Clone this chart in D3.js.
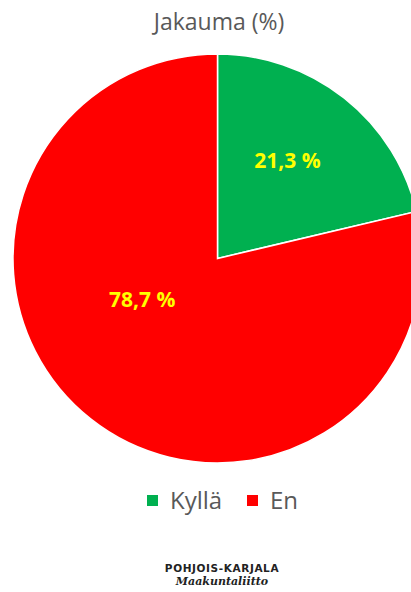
<!DOCTYPE html>
<html><head><meta charset="utf-8">
<script src="https://cdn.jsdelivr.net/npm/d3@7"></script>
<style>body{margin:0;background:#fff}svg{display:block}</style>
</head><body>
<script>
const categories = ["Kyllä", "En"];
const values = [21.3, 78.7];
const colors = ["#00B050", "#FF0000"];
const title = "Jakauma (%)";

const W = 411, H = 592;
const svg = d3.select("body").append("svg").attr("width", W).attr("height", H);
const font = "'Open Sans', 'Noto Sans', sans-serif";

svg.append("text").attr("x", 219).attr("y", 30).attr("text-anchor", "middle")
  .attr("font-family", font).attr("font-size", 23).attr("fill", "#595959").text(title);

const cx = 217.5, cy = 258.5, R = 204.5;
const pie = d3.pie().sort(null).value(d => d.v);
const data = pie(categories.map((c, i) => ({c, v: values[i], col: colors[i]})));
const arc = d3.arc().innerRadius(0).outerRadius(R);
const g = svg.append("g").attr("transform", `translate(${cx},${cy})`);
g.selectAll("path").data(data).join("path")
  .attr("d", arc).attr("fill", d => d.data.col)
  .attr("stroke", "#fff").attr("stroke-width", 1.5);

const fmt = v => d3.format(".1f")(v).replace(".", ",") + " %";
g.selectAll("text.lbl").data(data).join("text").attr("class", "lbl")
  .attr("transform", (d, i) => {
    const mid = (d.startAngle + d.endAngle) / 2;
    const a = i === 0 ? mid - 0.05 : mid + 0.4;
    const r = R * (i === 0 ? 0.59 : 0.42);
    const p = d3.pointRadial(a, r);
    return `translate(${p[0]},${p[1]})`;
  })
  .attr("text-anchor", "middle").attr("dy", "0.35em")
  .attr("font-family", font).attr("font-weight", "bold").attr("font-size", 21)
  .attr("fill", "#FFFF00").text(d => fmt(d.data.v));

// legend
const leg = svg.append("g");
const lx = [147, 247];
categories.forEach((c, i) => {
  leg.append("rect").attr("x", lx[i]).attr("y", 495).attr("width", 11).attr("height", 11).attr("fill", colors[i]);
  leg.append("text").attr("x", lx[i] + 23).attr("y", 509).attr("font-family", font)
    .attr("font-size", 24).attr("fill", "#595959").text(c);
});

// logo
svg.append("text").attr("x", 222).attr("y", 572).attr("text-anchor", "middle")
  .attr("font-family", "'DejaVu Sans', sans-serif").attr("font-size", 10.5).attr("font-weight", "bold")
  .attr("fill", "#222").attr("letter-spacing", 0.6).text("POHJOIS-KARJALA");
svg.append("text").attr("x", 222).attr("y", 585).attr("text-anchor", "middle")
  .attr("font-family", "'DejaVu Serif', serif").attr("font-size", 11).attr("font-style", "italic").attr("font-weight", "bold")
  .attr("fill", "#222").text("Maakuntaliitto");
</script>
</body></html>
